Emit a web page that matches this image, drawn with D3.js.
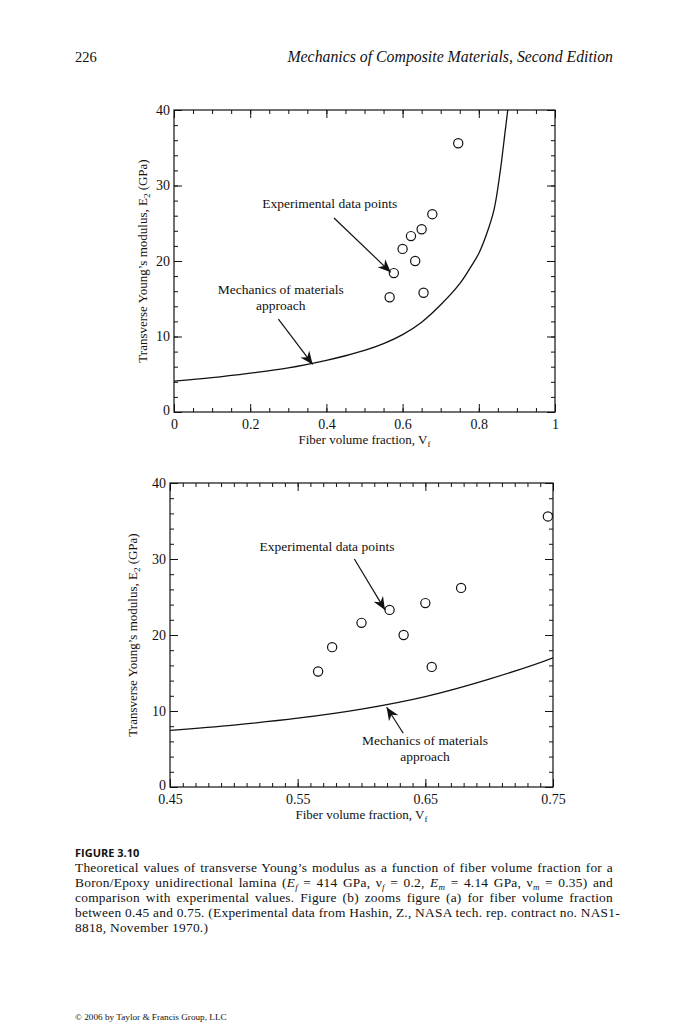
<!DOCTYPE html>
<html>
<head>
<meta charset="utf-8">
<script src="https://cdn.jsdelivr.net/npm/d3@7"></script>
<style>
  body { margin: 0; background: #fff; }
  svg { display: block; }
  text { font-family: "Liberation Serif", "Times New Roman", serif; fill: #111; }
  .axis line { stroke: #111; stroke-width: 1; }
</style>
</head>
<body>
<svg id="page" width="691" height="1036"></svg>
<script>
// theoretical curve (mechanics of materials approach)
const curveVf = [0, 0.1, 0.2, 0.3, 0.4, 0.45, 0.5, 0.55, 0.6, 0.65, 0.7, 0.75, 0.78, 0.8, 0.82, 0.84, 0.856, 0.869, 0.876];
const curveE2 = [4.1, 4.55, 5.15, 5.85, 6.85, 7.45, 8.15, 9.05, 10.25, 11.9, 14.2, 17.0, 19.3, 21.0, 23.5, 26.8, 31.8, 37.1, 40.0];

// experimental points (Hashin 1970)
const expVf = [0.566, 0.577, 0.600, 0.622, 0.633, 0.650, 0.655, 0.678, 0.746];
const expE2 = [15.2, 18.4, 21.6, 23.3, 20.0, 24.2, 15.8, 26.2, 35.6];

// axis ticks
const yMajor = [0, 10, 20, 30, 40];
const xMajorA = [0, 0.2, 0.4, 0.6, 0.8, 1];
const xLabelsA = ["0", "0.2", "0.4", "0.6", "0.8", "1"];
const xMajorB = [0.45, 0.55, 0.65, 0.75];
const xLabelsB = ["0.45", "0.55", "0.65", "0.75"];

const curve = curveVf.map((v, i) => ({ vf: v, e2: curveE2[i] }));
const points = expVf.map((v, i) => ({ vf: v, e2: expE2[i] }));

const svg = d3.select("#page");
svg.append("rect").attr("width", 691).attr("height", 1036).attr("fill", "#fff");

const defs = svg.append("defs");
defs.append("marker")
  .attr("id", "head")
  .attr("viewBox", "-13 -6 14 12")
  .attr("refX", 0).attr("refY", 0)
  .attr("markerWidth", 14).attr("markerHeight", 12)
  .attr("markerUnits", "userSpaceOnUse")
  .attr("orient", "auto")
  .append("path")
  .attr("d", "M0,0 L-13,-5.5 L-9,0 L-13,5.5 Z")
  .attr("fill", "#111");

// page header
svg.append("text").attr("x", 75).attr("y", 62).style("font-size", "14.5px").text("226");
svg.append("text").attr("x", 613).attr("y", 62).attr("text-anchor", "end")
  .style("font-size", "15.8px").style("font-style", "italic")
  .text("Mechanics of Composite Materials, Second Edition");

function panel(o) {
  const g = svg.append("g");
  const x = d3.scaleLinear().domain(o.xDomain).range([o.left, o.right]);
  const y = d3.scaleLinear().domain([0, 40]).range([o.bottom, o.top]);

  const clipId = "clip" + o.id;
  defs.append("clipPath").attr("id", clipId)
    .append("rect").attr("x", o.left).attr("y", o.top)
    .attr("width", o.right - o.left).attr("height", o.bottom - o.top);

  const xMinor = d3.range(o.xDomain[0], o.xDomain[1] + 1e-9, o.xMinorStep);
  const yMinor = d3.range(0, 40.001, 2);

  // major + minor ticks, inward on all four sides
  const addAxis = (gen, tx, ty) => g.append("g").attr("class", "axis")
    .attr("transform", `translate(${tx},${ty})`).call(gen)
    .call(a => a.select(".domain").remove());

  addAxis(d3.axisBottom(x).tickValues(xMinor).tickSize(-4).tickFormat(""), 0, o.bottom);
  addAxis(d3.axisTop(x).tickValues(xMinor).tickSize(-4).tickFormat(""), 0, o.top);
  addAxis(d3.axisLeft(y).tickValues(yMinor).tickSize(-4).tickFormat(""), o.left, 0);
  addAxis(d3.axisRight(y).tickValues(yMinor).tickSize(-4).tickFormat(""), o.right, 0);

  addAxis(d3.axisBottom(x).tickValues(o.xMajor).tickSize(-8).tickPadding(7)
    .tickFormat((d, i) => o.xLabels[i]), 0, o.bottom);
  addAxis(d3.axisTop(x).tickValues(o.xMajor).tickSize(-8).tickFormat(""), 0, o.top);
  const yAx = addAxis(d3.axisLeft(y).tickValues(yMajor).tickSize(-8).tickPadding(4), o.left, 0);
  addAxis(d3.axisRight(y).tickValues(yMajor).tickSize(-8).tickFormat(""), o.right, 0);
  // lift the "0" a touch so it clears the first x label
  yAx.selectAll(".tick text").filter(d => d === 0).attr("y", -2);

  g.selectAll(".axis").attr("font-family", null).attr("font-size", null);
  g.selectAll(".tick text").attr("fill", "#111").style("font-size", "14px");

  g.append("rect")
    .attr("x", o.left).attr("y", o.top)
    .attr("width", o.right - o.left).attr("height", o.bottom - o.top)
    .attr("fill", "none").attr("stroke", "#111").attr("stroke-width", 1.2);

  // theory curve
  g.append("path")
    .datum(curve.filter(d => d.vf >= o.xDomain[0] - 0.06))
    .attr("clip-path", `url(#${clipId})`)
    .attr("fill", "none").attr("stroke", "#111").attr("stroke-width", 1.3)
    .attr("d", d3.line().x(d => x(d.vf)).y(d => y(d.e2)).curve(d3.curveCatmullRom.alpha(0.5)));

  // experimental points
  g.selectAll(".pt").data(points).enter().append("circle")
    .attr("cx", d => x(d.vf)).attr("cy", d => y(d.e2)).attr("r", 4.6)
    .attr("fill", "#fff").attr("stroke", "#111").attr("stroke-width", 1.2);

  // axis titles
  const xt = g.append("text")
    .attr("x", (o.left + o.right) / 2).attr("y", o.bottom + 32)
    .attr("text-anchor", "middle").style("font-size", "13px");
  xt.append("tspan").text("Fiber volume fraction, V");
  xt.append("tspan").attr("dy", 3).style("font-size", "9px").text("f");

  const yt = g.append("text")
    .attr("transform", `translate(${o.yTitleX},${(o.top + o.bottom) / 2}) rotate(-90)`)
    .attr("text-anchor", "middle").style("font-size", "13px");
  yt.append("tspan").text("Transverse Young\u2019s modulus, E");
  yt.append("tspan").attr("dy", 3).style("font-size", "9px").text("2");
  yt.append("tspan").attr("dy", -3).text(" (GPa)");

  // annotations (data coordinates)
  o.notes.forEach(n => {
    n.lines.forEach((l, i) => {
      g.append("text").attr("x", x(n.label[0])).attr("y", y(n.label[1]) + i * 15.5)
        .attr("text-anchor", "middle").style("font-size", "13.5px").text(l);
    });
    g.append("line")
      .attr("x1", x(n.from[0])).attr("y1", y(n.from[1]))
      .attr("x2", x(n.to[0])).attr("y2", y(n.to[1]))
      .attr("stroke", "#111").attr("stroke-width", 1.2)
      .attr("marker-end", "url(#head)");
  });
}

panel({
  id: "a", xDomain: [0, 1], left: 174, right: 555, top: 110, bottom: 412,
  xMinorStep: 0.05, xMajor: xMajorA, xLabels: xLabelsA, yTitleX: 147,
  notes: [
    { lines: ["Experimental data points"], label: [0.409, 27.0], from: [0.42, 25.7], to: [0.569, 18.5] },
    { lines: ["Mechanics of materials", "approach"], label: [0.28, 15.6], from: [0.274, 12.3], to: [0.364, 6.3] }
  ]
});

panel({
  id: "b", xDomain: [0.45, 0.75], left: 170, right: 553, top: 483, bottom: 787,
  xMinorStep: 0.01, xMajor: xMajorB, xLabels: xLabelsB, yTitleX: 137,
  notes: [
    { lines: ["Experimental data points"], label: [0.573, 31.1], from: [0.5944, 30.0], to: [0.6184, 23.3] },
    { lines: ["Mechanics of materials", "approach"], label: [0.6497, 5.5], from: [0.6327, 7.07], to: [0.6197, 10.49] }
  ]
});

// caption
svg.append("text").attr("x", 75).attr("y", 857)
  .style("font-family", "'Open Sans', sans-serif").style("font-weight", "bold").style("font-size", "11px")
  .text("FIGURE 3.10");

const captionLines = [
  [["Theoretical values of transverse Young\u2019s modulus as a function of fiber volume fraction for a"]],
  [["Boron/Epoxy unidirectional lamina ("], ["E", "i"], ["f", "s"], [" = 414 GPa, \u03bd"], ["f", "s"],
   [" = 0.2, "], ["E", "i"], ["m", "s"], [" = 4.14 GPa, \u03bd"], ["m", "s"], [" = 0.35) and"]],
  [["comparison with experimental values. Figure (b) zooms figure (a) for fiber volume fraction"]],
  [["between 0.45 and 0.75. (Experimental data from Hashin, Z., NASA tech. rep. contract no. NAS1-"]],
  [["8818, November 1970.)"]]
];
captionLines.forEach((segs, li) => {
  const t = svg.append("text").attr("x", 75).attr("y", 872 + li * 15)
    .style("font-size", "13.4px").style("letter-spacing", "0.25px");
  segs.forEach((s, si) => {
    const sp = t.append("tspan").text(s[0]);
    if (s[1] === "i") sp.style("font-style", "italic");
    if (s[1] === "s") sp.style("font-style", "italic").style("font-size", "9px").attr("dy", 3);
    else if (si > 0 && segs[si - 1][1] === "s") sp.attr("dy", -3);
  });
  if (li < captionLines.length - 1) {
    const w = t.node().getComputedTextLength();
    const spaces = segs.map(s => s[0]).join("").split(" ").length - 1;
    t.style("word-spacing", Math.max(0, (538 - w) / spaces) + "px");
  }
});

svg.append("text").attr("x", 75).attr("y", 1020).style("font-size", "9.2px")
  .text("\u00a9 2006 by Taylor & Francis Group, LLC");
</script>
</body>
</html>
